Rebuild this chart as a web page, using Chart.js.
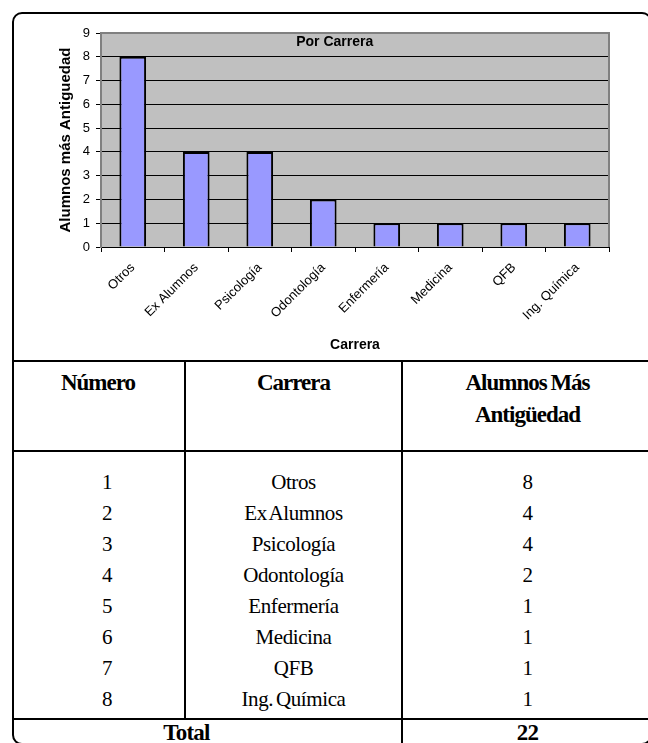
<!DOCTYPE html>
<html>
<head>
<meta charset="utf-8">
<script src="https://cdn.jsdelivr.net/npm/chart.js@4/dist/chart.umd.min.js"></script>
<style>
  body { margin: 0; width: 648px; height: 743px; overflow: hidden; background: #fff; position: relative; }
  #frame { position: absolute; left: 12px; top: 12px; width: 640px; height: 733px; border: 2px solid #000; border-radius: 10px; box-sizing: border-box; }
  #wrap { position: absolute; left: 0; top: 0; width: 648px; height: 360px; }
  table { position: absolute; left: 12px; top: 360px; width: 640px; border-collapse: collapse; table-layout: fixed;
          font-family: "Liberation Serif", "Times New Roman", serif; font-size: 21px; color: #000; }
  td, th { padding: 0; text-align: center; }
  thead th { height: 83px; vertical-align: top; padding-top: 5px; line-height: 32px; font-size: 23px; font-weight: bold;
             letter-spacing: -1px; word-spacing: -1px; border-top: 2px solid #000; border-bottom: 2px solid #000; }
  .c2 { border-left: 2px solid #000; border-right: 2px solid #000; }
  tbody td { height: 31px; line-height: 31px; letter-spacing: -0.4px; word-spacing: -2px; }
  tbody td.n { padding-left: 18px; }
  tr.sp td { height: 15px; line-height: 0; }
  tr.sp2 td { height: 3px; line-height: 0; }
  tfoot td { border-top: 2px solid #000; height: 26px; line-height: 26px; font-weight: bold; font-size: 23px; letter-spacing: -0.8px; }
  tfoot td.t { padding-right: 40px; }
</style>
</head>
<body>
<div id="frame"></div>
<div id="wrap"><canvas id="myChart"></canvas></div>
<table id="tabla">
  <colgroup><col style="width:173px"><col style="width:217px"><col style="width:250px"></colgroup>
  <thead>
    <tr><th>Número</th><th class="c2">Carrera</th><th>Alumnos Más<br>Antigüedad</th></tr>
  </thead>
  <tbody id="cuerpo"></tbody>
  <tfoot><tr><td class="t" colspan="2">Total</td><td id="total" style="border-left:2px solid #000"></td></tr></tfoot>
</table>
<script>
var carreras = ['Otros', 'Ex Alumnos', 'Psicología', 'Odontología', 'Enfermería', 'Medicina', 'QFB', 'Ing. Química'];
var alumnos = [8, 4, 4, 2, 1, 1, 1, 1];
var yMax = 9;

// table below the chart
var cuerpo = document.getElementById('cuerpo');
var html = '<tr class="sp"><td></td><td class="c2"></td><td></td></tr>';
for (var i = 0; i < carreras.length; i++) {
    html += '<tr><td class="n">' + (i + 1) + '</td><td class="c2">' + carreras[i] + '</td><td>' + alumnos[i] + '</td></tr>';
}
html += '<tr class="sp2"><td></td><td class="c2"></td><td></td></tr>';
cuerpo.innerHTML = html;
document.getElementById('total').textContent = alumnos.reduce(function (a, b) { return a + b; }, 0);

Chart.defaults.font.family = '"Liberation Sans", Arial, sans-serif';
Chart.defaults.color = '#000';

// grey plot area, frame and the title inside it
var plotArea = {
    id: 'plotArea',
    beforeDraw: function (chart) {
        var ctx = chart.ctx, a = chart.chartArea;
        ctx.save();
        ctx.fillStyle = '#C0C0C0';
        ctx.fillRect(a.left, a.top, a.right - a.left, a.bottom - a.top);
        ctx.restore();
    },
    afterDraw: function (chart) {
        var ctx = chart.ctx, a = chart.chartArea;
        ctx.save();
        ctx.strokeStyle = '#808080';
        ctx.lineWidth = 2;
        ctx.beginPath();
        ctx.moveTo(a.left, a.top);
        ctx.lineTo(a.right, a.top);
        ctx.lineTo(a.right, a.bottom);
        ctx.stroke();
        ctx.font = 'bold 14px "Liberation Sans", Arial';
        ctx.fillStyle = '#000';
        ctx.textAlign = 'center';
        ctx.textBaseline = 'middle';
        ctx.fillText('Por Carrera', a.left + (a.right - a.left) * 0.46, a.top + 9);
        ctx.restore();
    }
};

var ctx = document.getElementById('myChart');
var chart = new Chart(ctx, {
    type: 'bar',
    data: {
        labels: carreras,
        datasets: [{
            label: 'Alumnos más Antiguedad',
            data: alumnos,
            backgroundColor: '#9999FF',
            borderColor: '#000',
            borderWidth: 2,
            barPercentage: 0.42,
            categoryPercentage: 1.0
        }]
    },
    options: {
        responsive: true,
        maintainAspectRatio: false,
        animation: false,
        layout: { padding: { top: 33, right: 39, left: 0, bottom: 0 } },
        plugins: {
            legend: { display: false },
            tooltip: { enabled: false }
        },
        scales: {
            x: {
                grid: { offset: true, drawOnChartArea: false, tickLength: 5, tickColor: '#000' },
                border: { color: '#000', width: 1 },
                ticks: { color: '#000', font: { size: 13 }, maxRotation: 45, minRotation: 45, padding: 8 },
                title: { display: true, text: 'Carrera', color: '#000', font: { size: 14, weight: 'bold' }, padding: { top: 0, bottom: 6 } },
                afterFit: function (scale) { scale.height = 113; }
            },
            y: {
                min: 0,
                max: yMax,
                ticks: { stepSize: 1, color: '#000', font: { size: 13 }, padding: 6 },
                grid: {
                    color: function (c) { return (c.tick && (c.tick.value === 0 || c.tick.value === yMax)) ? 'rgba(0,0,0,0)' : '#000'; },
                    tickColor: '#000',
                    tickLength: 5
                },
                border: { color: '#808080', width: 2 },
                title: { display: true, text: 'Alumnos más Antiguedad', color: '#000', font: { size: 15, weight: 'bold' }, padding: { top: 57, bottom: 0 } },
                afterFit: function (scale) { scale.width = 101; }
            }
        }
    },
    plugins: [plotArea]
});
</script>
</body>
</html>
